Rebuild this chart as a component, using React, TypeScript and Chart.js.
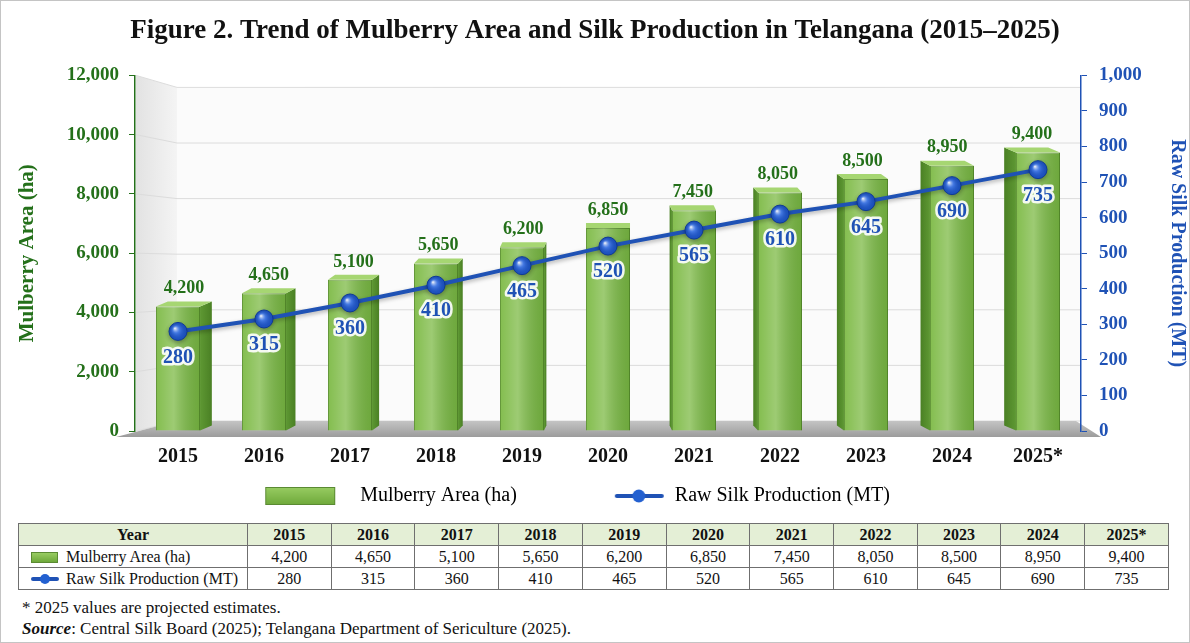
import { useEffect, useRef } from "react";
import { Chart, registerables, type Plugin } from "chart.js";

Chart.register(...registerables);

const years = ["2015", "2016", "2017", "2018", "2019", "2020", "2021", "2022", "2023", "2024", "2025*"];
const mulberryArea = [4200, 4650, 5100, 5650, 6200, 6850, 7450, 8050, 8500, 8950, 9400];
const rawSilk = [280, 315, 360, 410, 465, 520, 565, 610, 645, 690, 735];
const areaRange = [0, 12000, 2000];
const silkRange = [0, 1000, 100];

const SERIF = "'Liberation Serif', 'Times New Roman', serif";
const GREEN = "#24701a";
const BLUE = "#1f52b5";
const fmt = (v: number) => v.toLocaleString("en-US");
const sideDepth = (x: number, cx: number, half: number) => (13 * (cx - x)) / half;

// pseudo 3D: wall + floor + grid behind, side faces on bars, sphere points, value labels
const scenePlugin: Plugin = {
  id: "scene",
  beforeDraw(chart) {
    const { ctx, chartArea } = chart;
    const { left, right, top, bottom } = chartArea;
    const wx = 42;
    ctx.save();
    const wg = ctx.createLinearGradient(left, 0, left + wx, 0);
    wg.addColorStop(0, "#e2e2e2");
    wg.addColorStop(1, "#f4f4f4");
    ctx.fillStyle = wg;
    ctx.beginPath();
    ctx.moveTo(left + 1, top);
    ctx.lineTo(left + wx, top + 12);
    ctx.lineTo(left + wx, bottom - 10);
    ctx.lineTo(left + 1, bottom);
    ctx.closePath();
    ctx.fill();
    ctx.fillStyle = "#fbfbfb";
    ctx.fillRect(left + wx, top + 12, right - left - wx, bottom - top - 22);

    const y = chart.scales.y;
    ctx.strokeStyle = "#dcdcdc";
    ctx.lineWidth = 1;
    y.ticks.forEach((t) => {
      const py = y.getPixelForValue(t.value);
      const f = (py - top) / (bottom - top);
      const by = py + 12 - 22 * f;
      ctx.beginPath();
      ctx.moveTo(left + 1, py);
      ctx.lineTo(left + wx, by);
      ctx.lineTo(right, by);
      ctx.stroke();
    });

    const fg = ctx.createLinearGradient(0, bottom - 10, 0, bottom + 6);
    fg.addColorStop(0, "#c4c4c4");
    fg.addColorStop(1, "#9c9c9c");
    ctx.fillStyle = fg;
    ctx.beginPath();
    ctx.moveTo(left - 19, bottom + 6);
    ctx.lineTo(right + 20, bottom + 6);
    ctx.lineTo(right - 5, bottom - 10);
    ctx.lineTo(left + wx, bottom - 10);
    ctx.closePath();
    ctx.fill();
    ctx.restore();
  },
  beforeDatasetDraw(chart, args) {
    if (args.index !== 1) return;
    const { ctx } = chart;
    ctx.save();
    ctx.shadowColor = "rgba(0,0,0,0.3)";
    ctx.shadowBlur = 4;
    ctx.shadowOffsetY = 2;
  },
  afterDatasetDraw(chart, args) {
    const { ctx, chartArea } = chart;
    if (args.index === 0) {
      const cx = (chartArea.left + chartArea.right) / 2;
      const half = (chartArea.right - chartArea.left) / 2;
      ctx.save();
      args.meta.data.forEach((el) => {
        const { x, y, base, width } = (el as any).getProps(["x", "y", "base", "width"], true);
        const l = x - width / 2;
        const r = x + width / 2;
        const s = sideDepth(x, cx, half);
        const dy = -5;
        const hg = ctx.createLinearGradient(l, 0, r, 0);
        hg.addColorStop(0, "rgba(255,255,255,0.05)");
        hg.addColorStop(0.4, "rgba(255,255,255,0.25)");
        hg.addColorStop(1, "rgba(0,40,0,0.12)");
        ctx.fillStyle = hg;
        ctx.fillRect(l, y, width, base - y);
        const ex = s >= 0 ? r : l;
        const sg = ctx.createLinearGradient(ex, 0, ex + s, 0);
        sg.addColorStop(0, "#5e9833");
        sg.addColorStop(1, "#4a8024");
        ctx.fillStyle = sg;
        ctx.beginPath();
        ctx.moveTo(ex, y);
        ctx.lineTo(ex + s, y + dy);
        ctx.lineTo(ex + s, base + dy);
        ctx.lineTo(ex, base);
        ctx.closePath();
        ctx.fill();
        ctx.fillStyle = "#a6d672";
        ctx.beginPath();
        ctx.moveTo(l, y);
        ctx.lineTo(r, y);
        ctx.lineTo(r + s, y + dy);
        ctx.lineTo(l + s, y + dy);
        ctx.closePath();
        ctx.fill();
      });
      ctx.restore();
    } else if (args.index === 1) {
      ctx.restore();
      ctx.save();
      args.meta.data.forEach((el) => {
        const { x, y } = (el as any).getProps(["x", "y"], true);
        const g = ctx.createRadialGradient(x - 3, y - 3, 0.5, x, y, 9.5);
        g.addColorStop(0, "rgba(255,255,255,0.85)");
        g.addColorStop(0.35, "rgba(110,160,255,0.45)");
        g.addColorStop(1, "rgba(10,40,120,0)");
        ctx.fillStyle = g;
        ctx.beginPath();
        ctx.arc(x, y, 9, 0, Math.PI * 2);
        ctx.fill();
      });
      ctx.restore();
    }
  },
  afterDatasetsDraw(chart) {
    const { ctx, chartArea } = chart;
    const cx = (chartArea.left + chartArea.right) / 2;
    const half = (chartArea.right - chartArea.left) / 2;
    ctx.save();
    ctx.textAlign = "center";
    ctx.font = `bold 18px ${SERIF}`;
    ctx.fillStyle = GREEN;
    ctx.textBaseline = "bottom";
    chart.getDatasetMeta(0).data.forEach((el, i) => {
      const { x, y } = (el as any).getProps(["x", "y"], true);
      const s = sideDepth(x, cx, half);
      ctx.fillText(fmt(mulberryArea[i]), x + s / 2, y - 9);
    });
    ctx.font = `bold 20px ${SERIF}`;
    ctx.textBaseline = "middle";
    ctx.lineJoin = "round";
    ctx.lineWidth = 5;
    ctx.strokeStyle = "rgba(255,255,255,0.9)";
    ctx.fillStyle = BLUE;
    chart.getDatasetMeta(1).data.forEach((el, i) => {
      const { x, y } = (el as any).getProps(["x", "y"], true);
      ctx.strokeText(String(rawSilk[i]), x, y + 26);
      ctx.fillText(String(rawSilk[i]), x, y + 26);
    });
    ctx.restore();
  },
};

function makeIcon(w: number, h: number, draw: (c: CanvasRenderingContext2D) => void) {
  const c = document.createElement("canvas");
  c.width = w;
  c.height = h;
  draw(c.getContext("2d")!);
  return c;
}

const cell: React.CSSProperties = {
  border: "1px solid #6f6f6f",
  height: 21,
  padding: 0,
  textAlign: "center",
  lineHeight: "21px",
};

export default function App() {
  const canvasRef = useRef<HTMLCanvasElement | null>(null);
  const chartRef = useRef<Chart | null>(null);

  useEffect(() => {
    document.body.style.margin = "0";
    if (!canvasRef.current) return;
    chartRef.current?.destroy();

    const boxW = 145;
    const barIcon = makeIcon(boxW, 22, (c) => {
      const g = c.createLinearGradient(0, 2, 0, 20);
      g.addColorStop(0, "#98cc62");
      g.addColorStop(1, "#6ea83a");
      c.fillStyle = g;
      c.fillRect(60, 2, 70, 18);
      c.strokeStyle = "#5a8a32";
      c.lineWidth = 1;
      c.strokeRect(60.5, 2.5, 69, 17);
    });
    const lineIcon = makeIcon(boxW, 22, (c) => {
      c.strokeStyle = BLUE;
      c.lineWidth = 4;
      c.lineCap = "round";
      c.beginPath();
      c.moveTo(97, 11);
      c.lineTo(142, 11);
      c.stroke();
      c.fillStyle = "#2360d0";
      c.beginPath();
      c.arc(119, 11, 6.5, 0, Math.PI * 2);
      c.fill();
    });

    chartRef.current = new Chart(canvasRef.current, {
      type: "bar",
      data: {
        labels: years,
        datasets: [
          {
            type: "bar",
            label: "Mulberry Area (ha)",
            data: mulberryArea,
            yAxisID: "y",
            order: 1,
            backgroundColor: "#7dba45",
            borderColor: "#5c912f",
            borderWidth: 1,
            categoryPercentage: 0.8,
            barPercentage: 0.64,
          },
          {
            type: "line",
            label: "Raw Silk Production (MT)",
            data: rawSilk,
            yAxisID: "y1",
            order: 0,
            borderColor: BLUE,
            borderWidth: 4,
            pointRadius: 9,
            pointBackgroundColor: "#1d55c8",
            pointBorderColor: "#0f3a96",
            pointBorderWidth: 1,
            tension: 0,
          },
        ],
      },
      options: {
        responsive: false,
        animation: false,
        font: { family: SERIF },
        plugins: {
          title: {
            display: true,
            text: "Figure 2. Trend of Mulberry Area and Silk Production in Telangana (2015–2025)",
            color: "#111",
            font: { family: SERIF, size: 27, weight: "bold" },
            padding: { top: 14, bottom: 28 },
          },
          legend: {
            position: "bottom",
            labels: {
              usePointStyle: true,
              pointStyleWidth: boxW,
              color: "#111",
              font: { family: SERIF, size: 20 },
              padding: 3,
              generateLabels: () => [
                { text: "Mulberry Area (ha)", pointStyle: barIcon, datasetIndex: 0, hidden: false, lineWidth: 0 },
                {
                  // trailing spaces only shift the centred legend row to where the reference has it
                  text: "Raw Silk Production (MT)" + " ".repeat(19),
                  pointStyle: lineIcon,
                  datasetIndex: 1,
                  hidden: false,
                  lineWidth: 0,
                },
              ],
            },
          },
          tooltip: { enabled: false },
        },
        scales: {
          x: {
            grid: { display: false, drawTicks: false },
            border: { display: false },
            ticks: { color: "#111", font: { family: SERIF, size: 20, weight: "bold" }, padding: 14 },
          },
          y: {
            position: "left",
            min: areaRange[0],
            max: areaRange[1],
            ticks: {
              stepSize: areaRange[2],
              color: GREEN,
              font: { family: SERIF, size: 19, weight: "bold" },
              padding: 10,
              callback: (v) => fmt(Number(v)),
            },
            grid: { drawOnChartArea: false, color: GREEN, tickLength: 6 },
            border: { color: GREEN, width: 1.5 },
            title: {
              display: true,
              text: "Mulberry Area (ha)",
              color: GREEN,
              font: { family: SERIF, size: 21, weight: "bold" },
              padding: { top: 14, bottom: 0 },
            },
            afterFit: (s) => {
              s.width = 134;
            },
          },
          y1: {
            position: "right",
            min: silkRange[0],
            max: silkRange[1],
            ticks: {
              stepSize: silkRange[2],
              color: BLUE,
              font: { family: SERIF, size: 19, weight: "bold" },
              padding: 12,
              callback: (v) => fmt(Number(v)),
            },
            grid: { drawOnChartArea: false, color: BLUE, tickLength: 6 },
            border: { color: BLUE, width: 1.5 },
            title: {
              display: true,
              text: "Raw Silk Production (MT)",
              color: BLUE,
              font: { family: SERIF, size: 20, weight: "bold" },
              padding: { top: 0, bottom: 0 },
            },
            afterFit: (s) => {
              s.width = 108;
            },
          },
        },
      },
      plugins: [scenePlugin],
    });
    return () => {
      chartRef.current?.destroy();
      chartRef.current = null;
    };
  }, []);

  return (
    <div
      style={{
        position: "relative",
        width: 1190,
        height: 643,
        boxSizing: "border-box",
        border: "1px solid #c4c4c4",
        background: "#fff",
        overflow: "hidden",
        fontFamily: SERIF,
        color: "#111",
      }}
    >
      <canvas ref={canvasRef} width={1188} height={515} style={{ position: "absolute", left: 0, top: 0 }} />
      <table
        style={{
          position: "absolute",
          left: 17,
          top: 522,
          width: 1151,
          borderCollapse: "collapse",
          tableLayout: "fixed",
          fontSize: 16,
        }}
      >
        <colgroup>
          <col style={{ width: 229 }} />
          {years.map((y) => (
            <col key={y} />
          ))}
        </colgroup>
        <thead>
          <tr style={{ background: "#e4efd6" }}>
            <th style={cell}>Year</th>
            {years.map((y) => (
              <th key={y} style={cell}>
                {y}
              </th>
            ))}
          </tr>
        </thead>
        <tbody>
          <tr>
            <td style={{ ...cell, textAlign: "left", paddingLeft: 12 }}>
              <span
                style={{
                  display: "inline-block",
                  width: 27,
                  height: 11,
                  marginRight: 8,
                  verticalAlign: "-1px",
                  background: "linear-gradient(#98cc62, #6ea83a)",
                  border: "1px solid #5a8a32",
                  boxSizing: "border-box",
                }}
              />
              Mulberry Area (ha)
            </td>
            {mulberryArea.map((v, i) => (
              <td key={i} style={cell}>
                {fmt(v)}
              </td>
            ))}
          </tr>
          <tr>
            <td style={{ ...cell, textAlign: "left", paddingLeft: 12 }}>
              <span
                style={{
                  position: "relative",
                  display: "inline-block",
                  width: 28,
                  height: 10,
                  marginRight: 7,
                  verticalAlign: "0px",
                }}
              >
                <span
                  style={{
                    position: "absolute",
                    left: 0,
                    right: 0,
                    top: 3,
                    height: 4,
                    borderRadius: 2,
                    background: BLUE,
                  }}
                />
                <span
                  style={{
                    position: "absolute",
                    left: 9,
                    top: 0,
                    width: 10,
                    height: 10,
                    borderRadius: 5,
                    background: "#2360d0",
                  }}
                />
              </span>
              Raw Silk Production (MT)
            </td>
            {rawSilk.map((v, i) => (
              <td key={i} style={cell}>
                {v}
              </td>
            ))}
          </tr>
        </tbody>
      </table>
      <div style={{ position: "absolute", left: 21, top: 597, fontSize: 17 }}>
        * 2025 values are projected estimates.
      </div>
      <div style={{ position: "absolute", left: 21, top: 618, fontSize: 17 }}>
        <b>
          <i>Source</i>
        </b>
        : Central Silk Board (2025); Telangana Department of Sericulture (2025).
      </div>
    </div>
  );
}
